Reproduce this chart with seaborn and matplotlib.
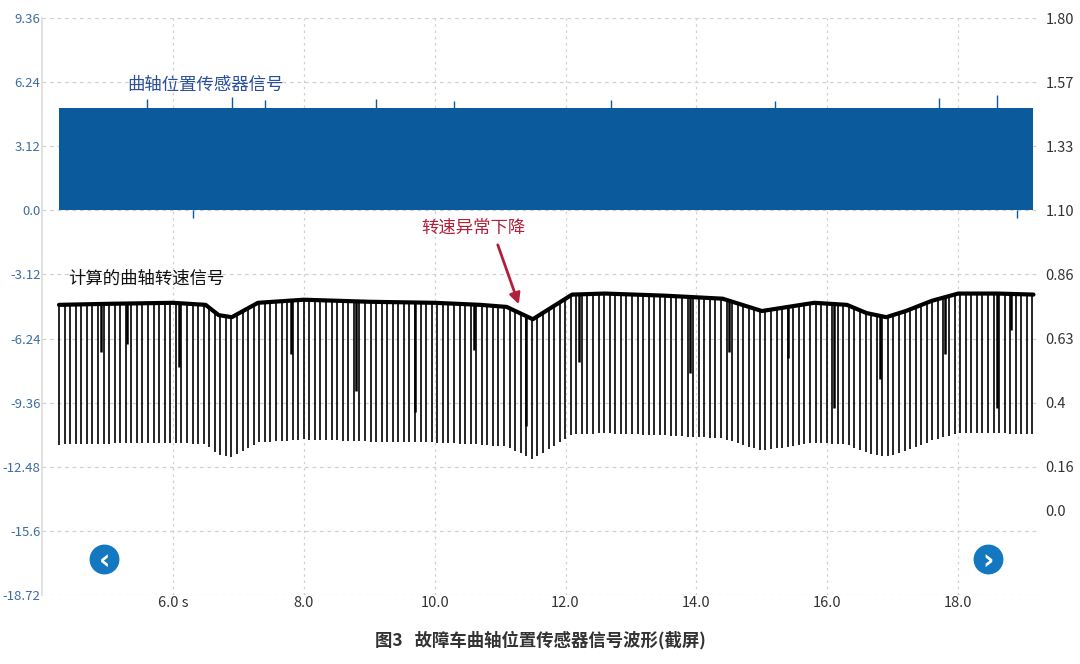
import numpy as np
import matplotlib
matplotlib.use("Agg")
import matplotlib.pyplot as plt
import seaborn as sns

sns.set_theme(style="white")
plt.rcParams['font.family'] = ['Noto Sans CJK SC', 'DejaVu Sans']

# ---- data ----
left_ticks = [9.36, 6.24, 3.12, 0.0, -3.12, -6.24, -9.36, -12.48, -15.6, -18.72]
left_labels = ["9.36", "6.24", "3.12", "0.0", "-3.12", "-6.24", "-9.36", "-12.48", "-15.6", "-18.72"]
right_pos = [9.36, 6.24, 3.12, 0.0, -3.12, -6.24, -9.36, -12.48, -14.6]
right_labels = ["1.80", "1.57", "1.33", "1.10", "0.86", "0.63", "0.4", "0.16", "0.0"]
x_ticks = [6, 8, 10, 12, 14, 16, 18]
x_labels = ["6.0 s", "8.0", "10.0", "12.0", "14.0", "16.0", "18.0"]

crank_start, crank_end = 4.26, 19.15
crank_high = 5.0
crank_peak_t = [5.6, 6.9, 7.4, 9.1, 10.3, 12.7, 15.2, 17.7, 18.6]
crank_peak_v = [5.4, 5.5, 5.35, 5.4, 5.3, 5.35, 5.3, 5.45, 5.6]

env_t = [4.26, 5.0, 6.0, 6.5, 6.7, 6.9, 7.1, 7.3, 8.0, 9.0, 10.0, 10.7, 11.1, 11.3, 11.5, 11.8,
         12.1, 12.6, 13.5, 14.4, 14.8, 15.0, 15.3, 15.8, 16.3, 16.6, 16.9, 17.2, 17.6, 18.0, 18.6, 19.15]
env_v = [-4.6, -4.55, -4.5, -4.6, -5.1, -5.2, -4.85, -4.5, -4.35, -4.45, -4.5, -4.6, -4.7, -5.0, -5.3, -4.7,
         -4.1, -4.05, -4.15, -4.3, -4.7, -4.9, -4.75, -4.5, -4.6, -5.0, -5.2, -4.9, -4.4, -4.05, -4.05, -4.1]
spike_period = 0.085
spike_depth = 6.8
partial_t = [4.9, 5.3, 6.1, 7.8, 8.8, 9.7, 10.6, 11.4, 12.2, 13.9, 14.5, 15.4, 16.1, 16.8, 17.8, 18.6, 18.8]
partial_v = [-6.9, -6.5, -7.6, -7.0, -8.8, -9.8, -6.8, -10.5, -7.4, -7.9, -6.9, -7.2, -9.6, -8.2, -7.0, -9.6, -5.8]

# ---- figure ----
fig = plt.figure(figsize=(10.8, 6.64), dpi=100)
ax = fig.add_axes([42/1080, 1-595/664, 998/1080, 577/664])
ax.set_xlim(4.0, 19.25)
ax.set_ylim(-18.72, 9.36)
grid_c = "#d0d0d0"
for y in left_ticks:
    ax.axhline(y, color=grid_c, lw=0.9, ls=(0, (3, 3)), zorder=0)
for x in x_ticks:
    ax.axvline(x, color=grid_c, lw=0.9, ls=(0, (2, 3)), zorder=0)

blue = "#0b5a9c"
ax.fill_between([crank_start, crank_end], 0, crank_high, color=blue, lw=0, zorder=2)
ax.vlines(crank_peak_t, crank_high - 0.2, crank_peak_v, color=blue, lw=1, zorder=2)
ax.vlines([6.3, 18.9], -0.35, 0, color=blue, lw=1, zorder=2)

sp_t = np.arange(crank_start, crank_end, spike_period)
sp_top = np.interp(sp_t, env_t, env_v)
ax.vlines(sp_t, sp_top - spike_depth, sp_top, color="black", lw=1.2, zorder=3)
ax.vlines(partial_t, np.interp(partial_t, env_t, env_v), partial_v, color="black", lw=1.8, zorder=3)
ax.plot(env_t, env_v, color="black", lw=3, zorder=4)

ax.set_yticks(left_ticks)
ax.set_yticklabels(left_labels, color="#3d6d9e", fontsize=9.5)
ax.set_xticks(x_ticks)
ax.set_xticklabels(x_labels, color="#333333", fontsize=10.5)
ax.tick_params(length=0, pad=1)
for s in ["top", "right", "bottom"]:
    ax.spines[s].set_visible(False)
ax.spines["left"].set_color("#dddddd")

ax2 = ax.twinx()
ax2.set_ylim(ax.get_ylim())
ax2.set_yticks(right_pos)
ax2.set_yticklabels(right_labels, color="#333333", fontsize=10.5)
ax2.tick_params(length=0, pad=4)
for s in ax2.spines.values():
    s.set_visible(False)

ax.text(5.3, 5.85, "曲轴位置传感器信号", color="#2a4f9a", fontsize=12.5, zorder=5)
ax.text(4.4, -3.55, "计算的曲轴转速信号", color="#111111", fontsize=12.5, zorder=5)
ax.text(9.8, -1.1, "转速异常下降", color="#b0203a", fontsize=12.5, zorder=5)
ax.annotate("", xy=(11.3, -4.7), xytext=(10.95, -1.55),
            arrowprops=dict(arrowstyle="-|>", color="#b0203a", lw=2, mutation_scale=16), zorder=5)

ax.scatter([4.95, 18.46], [-16.95, -16.95], s=420, color="#1478c0", zorder=5, clip_on=False)
ax.text(4.95, -17.05, "‹", color="white", fontsize=20, fontweight="bold", ha="center", va="center", zorder=6, family="DejaVu Sans")
ax.text(18.46, -17.05, "›", color="white", fontsize=20, fontweight="bold", ha="center", va="center", zorder=6, family="DejaVu Sans")

fig.text(0.5, 1-640/664, "图3   故障车曲轴位置传感器信号波形(截屏)", ha="center", va="center",
         fontsize=12.5, fontweight="bold", color="#333333")

fig.savefig("out.png", dpi=100)
